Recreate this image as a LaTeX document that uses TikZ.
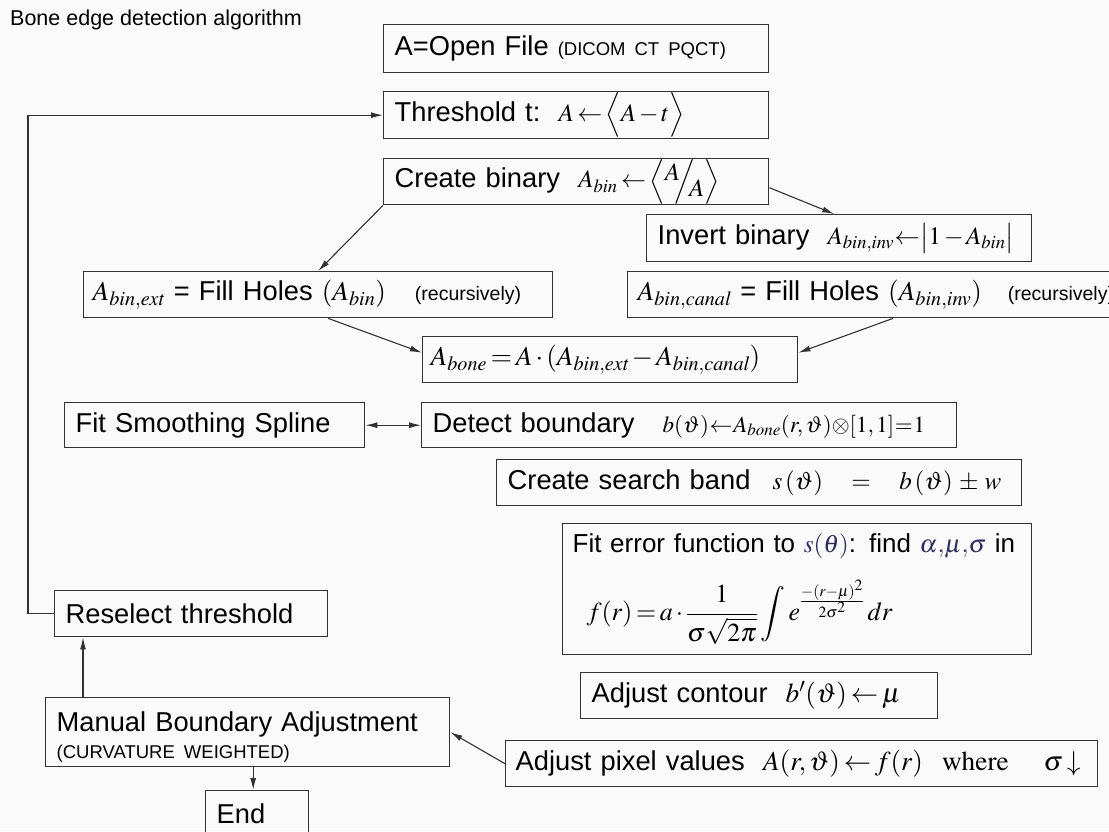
\documentclass[tikz,border=0pt]{standalone}
\usepackage{mathptmx}
\usepackage{exscale}
\usepackage[no-math]{fontspec}
\setmainfont{Liberation Sans}
\usetikzlibrary{arrows.meta}
\definecolor{bgc}{RGB}{250,250,250}
\definecolor{lnc}{RGB}{50,50,50}
\definecolor{hlc}{RGB}{45,45,95}
\newcommand{\bigtxt}{\fontsize{27.3}{31}\selectfont}
\newcommand{\smtxt}{\fontsize{19.5}{23}\selectfont}
\newcommand{\mfs}{\fontsize{25}{29}\selectfont}
\thickmuskip=2.5mu plus 1mu
\medmuskip=2mu plus 1mu
\begin{document}
\begin{tikzpicture}[x=1pt,y=-1pt,
  bx/.style={draw=lnc, line width=1.4pt, anchor=north west, inner xsep=11pt, inner ysep=0pt, align=left, font=\bigtxt},
  arr/.style={draw=lnc, line width=1.1pt, -{Latex[length=12pt,width=6pt]}},
  arrb/.style={draw=lnc, line width=1.1pt, {Latex[length=12pt,width=6pt]}-{Latex[length=12pt,width=6pt]}}]
\useasboundingbox (0,0) rectangle (1109,831);
\fill[bgc] (0,0) rectangle (1109,831);

\node[anchor=base west, inner sep=0pt, font=\fontsize{21.5}{25}\selectfont] (title) at (10,25) {Bone edge detection algorithm};

\node[bx, text width=363pt, minimum height=48pt] (open) at (383,24) {\mbox{A=Open File {\fontsize{18.5}{22}\selectfont(DICOM\hspace{9pt}CT PQCT)}}};
\node[bx, text width=363pt, minimum height=47pt] (thr) at (383,91) {\mbox{Threshold t:\ \ {\mfs$A\leftarrow\Bigl\langle A-t\Bigr\rangle$}}};
\node[bx, text width=363pt, minimum height=46pt] (bin) at (383,158) {\mbox{Create binary\ \ {\mfs$A_{\mathit{bin}}\leftarrow\left\langle\raisebox{7pt}{$A$}\!\!\Big/\!\!\raisebox{-9pt}{$A$}\right\rangle$}}};
\node[bx, text width=363pt, minimum height=47pt] (inv) at (646,214) {\mbox{Invert binary\ \ {\mfs$A_{\mathit{bin},\mathit{inv}}\!\leftarrow\!\bigl|1-A_{\mathit{bin}}\bigr|$}}};
\node[bx, inner xsep=10pt, text width=483pt, minimum height=46pt] (canal) at (627,271) {\mbox{$A_{\mathit{bin},\mathit{canal}}$ = Fill Holes $(A_{\mathit{bin},\mathit{inv}})$\hspace{26pt}{\smtxt(recursively)}}};
\node[bx, inner xsep=9pt, text width=451pt, minimum height=46pt] (ext) at (83,271) {\mbox{$A_{\mathit{bin},\mathit{ext}}$ = Fill Holes $(A_{\mathit{bin}})$\hspace{29pt}{\smtxt(recursively)}}};
\node[bx, inner xsep=8pt, text width=359pt, minimum height=46pt] (bone) at (422,336) {\mbox{$A_{\mathit{bone}}=A\cdot(A_{\mathit{bin},\mathit{ext}}-A_{\mathit{bin},\mathit{canal}})$}};
\node[bx, text width=278pt, minimum height=45pt] (spline) at (64,402) {Fit Smoothing Spline};
\node[bx, text width=513pt, minimum height=45pt] (detect) at (421,402) {\mbox{Detect boundary\hspace{28pt}{\fontsize{23}{27}\selectfont$b(\vartheta)\!\leftarrow\! A_{\mathit{bone}}(r,\vartheta)\!\otimes\![1,1]\!=\!1$}}};
\node[bx, text width=503pt, minimum height=46pt] (band) at (496,459) {\mbox{Create search band\hspace{22pt}{\mfs$s\,(\vartheta)\quad=\quad b\,(\vartheta)\;\pm\;w$}}};
\node[bx, inner xsep=10pt, text width=449pt, minimum height=131pt, font=\fontsize{26}{30}\selectfont] (fit) at (562,523) {\mbox{Fit error function to \textcolor{hlc}{\mfs$s(\theta)$}: find \textcolor{hlc}{\mfs$\alpha{,}\mu{,}\sigma$} in}\\[20pt]
  \mbox{\hspace*{14pt}$\displaystyle f(r)=a\cdot\frac{1}{\sigma\sqrt{2\pi}}\int e^{\frac{-(r-\mu)^2}{2\sigma^2}}\,dr$}};
\node[bx, text width=335pt, minimum height=46pt] (contour) at (580,672) {\mbox{Adjust contour\hspace{18pt}$b'(\vartheta)\leftarrow\mu$}};
\node[bx, inner xsep=10pt, text width=572pt, minimum height=46pt] (pixel) at (505,740) {\mbox{Adjust pixel values\ \ $A(r,\vartheta)\leftarrow f(r)\;\;\;\;\;\mathrm{where}\quad\;\;\sigma\downarrow$}};
\node[bx, text width=251pt, minimum height=46pt] (resel) at (54,590) {Reselect threshold};
\node[bx, text width=382pt, minimum height=69pt] (manual) at (45,697) {\rule{0pt}{30pt}Manual Boundary Adjustment\\[-4pt]{\fontsize{18.5}{21}\selectfont(CURVATURE WEIGHTED)}};
\node[bx, text width=81pt, minimum height=46pt] (end) at (205,790) {End};

% connectors
\draw[arr] (resel.west) -- ++(-26,0) |- (thr.west);
\draw[arr] ([xshift=38pt]manual.north west) -- ([xshift=38pt]manual.north west |- resel.south);
\draw[arr] ([xshift=-4pt]end.north |- manual.south) -- ([xshift=-4pt]end.north);
\draw[arr] (pixel.west) -- (manual.east);
\draw[arr] ([yshift=-6pt]bin.east) -- ([xshift=-5pt]inv.north);
\draw[arr] (bin.south west) -- (ext.north);
\draw[arr] ([xshift=10pt]ext.south) -- ([yshift=7pt]bone.west);
\draw[arr] ([xshift=266pt]canal.south west) -- ([yshift=7pt]bone.east);
\draw[arrb] (spline.east) -- (detect.west);
\end{tikzpicture}
\end{document}
